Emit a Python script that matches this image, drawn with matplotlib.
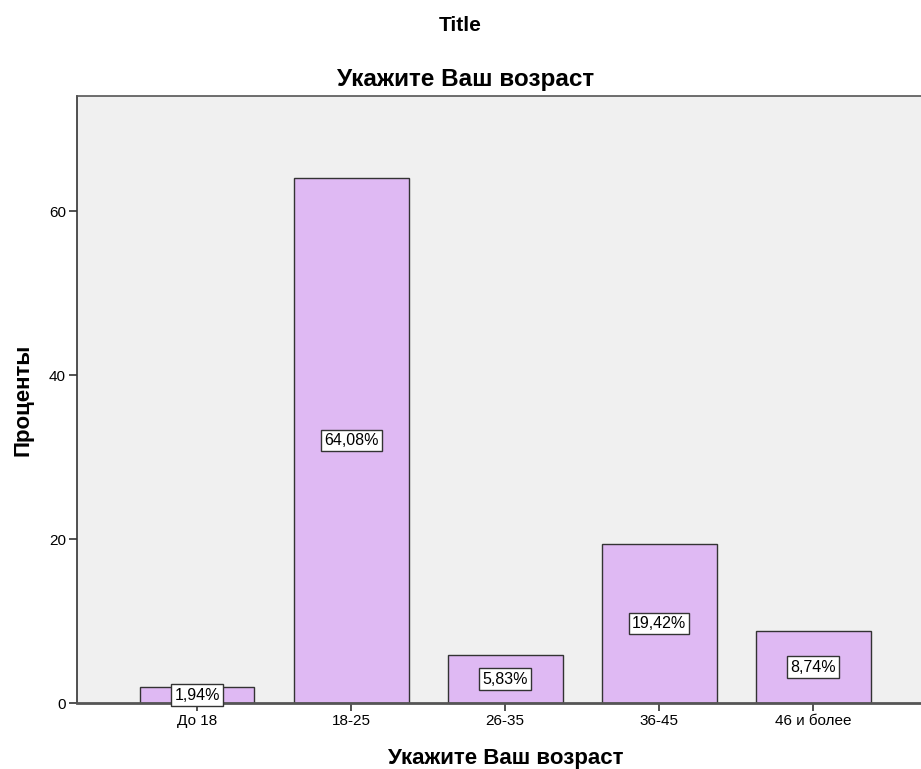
import matplotlib.pyplot as plt

plt.rcParams['font.family'] = ['Liberation Sans', 'DejaVu Sans']

categories = ["До 18", "18-25", "26-35", "36-45", "46 и более"]
percents = [1.94, 64.08, 5.83, 19.42, 8.74]
yticks = [0, 20, 40, 60]

fig = plt.figure(figsize=(9.21, 7.69), dpi=100)
ax = fig.add_axes([0.0836, 0.0858, 0.9164, 0.789])
ax.set_facecolor("#f0f0f0")

x = list(range(len(categories)))
ax.bar(x, percents, width=0.745, color="#dfb9f3", edgecolor="#333333", linewidth=1.0, zorder=2)

for xi, v in zip(x, percents):
    ax.text(xi, v / 2, f"{v:.2f}%".replace(".", ","), ha="center", va="center",
            fontsize=11.5, zorder=3,
            bbox=dict(boxstyle="square,pad=0.2", fc="white", ec="#333333", lw=1.0))

ax.set_xlim(-0.78, 4.7)
ax.set_ylim(0, 74)
ax.set_xticks(x)
ax.set_xticklabels(categories, fontsize=11)
ax.set_yticks(yticks)
ax.set_yticklabels([str(t) for t in yticks], fontsize=11)
ax.tick_params(axis="both", direction="out", length=6, width=1.2, color="#333333", pad=2)

ax.spines["right"].set_visible(False)
ax.spines["top"].set_color("#555555")
ax.spines["top"].set_linewidth(1.2)
ax.spines["left"].set_color("#333333")
ax.spines["left"].set_linewidth(1.2)
ax.spines["bottom"].set_color("#555555")
ax.spines["bottom"].set_linewidth(2)

ax.set_xlabel("Укажите Ваш возраст", fontsize=16, fontweight="bold", labelpad=14, x=0.508)
ax.set_ylabel("Проценты", fontsize=16, fontweight="bold", labelpad=11)
fig.text(0.505, 0.896, "Укажите Ваш возраст", ha="center", va="center",
         fontsize=17.5, fontweight="bold")
fig.text(0.5, 0.967, "Title", ha="center", va="center", fontsize=15, fontweight="bold")

fig.savefig("out.png", dpi=100)
